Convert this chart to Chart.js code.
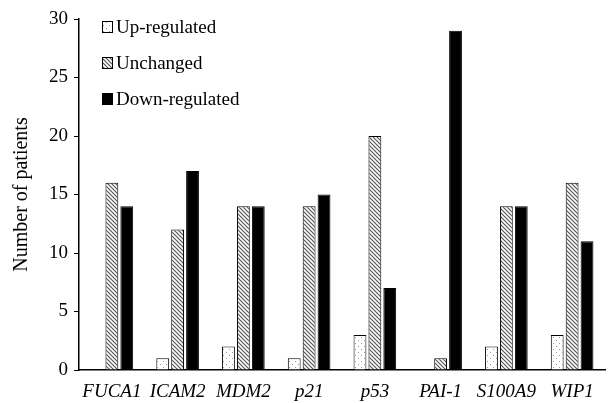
<!DOCTYPE html>
<html>
<head>
<meta charset="utf-8">
<script src="https://cdn.jsdelivr.net/npm/chart.js@4.4.0/dist/chart.umd.min.js"></script>
<style>
    html, body { margin: 0; padding: 0; background: #fff; }
    #wrap { width: 609px; height: 403px; position: relative; }
</style>
</head>
<body>
<div id="wrap"><canvas id="chart"></canvas></div>
<script>
const genes = ['FUCA1', 'ICAM2', 'MDM2', 'p21', 'p53', 'PAI-1', 'S100A9', 'WIP1'];
const upRegulated = [0, 1, 2, 1, 3, 0, 2, 3];
const unchanged = [16, 12, 14, 14, 20, 1, 14, 16];
const downRegulated = [14, 17, 14, 15, 7, 29, 14, 11];
const yTicks = [0, 5, 10, 15, 20, 25, 30];

const serif = '"Liberation Serif", "Times New Roman", serif';

// fill patterns
function dotPattern() {
    const c = document.createElement('canvas');
    c.width = 6; c.height = 6;
    const g = c.getContext('2d');
    g.fillStyle = '#fff';
    g.fillRect(0, 0, 6, 6);
    g.fillStyle = '#999';
    g.fillRect(1, 1, 1, 1);
    g.fillRect(4, 4, 1, 1);
    return g.createPattern(c, 'repeat');
}

function hatchPattern() {
    const c = document.createElement('canvas');
    c.width = 4; c.height = 4;
    const g = c.getContext('2d');
    g.fillStyle = '#fff';
    g.fillRect(0, 0, 4, 4);
    g.strokeStyle = '#555';
    g.lineWidth = 1.2;
    g.beginPath();
    g.moveTo(-1, -1); g.lineTo(5, 5);
    g.moveTo(-1, 3); g.lineTo(1, 5);
    g.moveTo(3, -1); g.lineTo(5, 1);
    g.stroke();
    return g.createPattern(c, 'repeat');
}

const fills = [dotPattern(), hatchPattern(), '#000'];

// legend drawn inside the plot, top left
const insideLegend = {
    id: 'insideLegend',
    afterDraw(chart) {
        const ctx = chart.ctx;
        ctx.save();
        ctx.font = '19px ' + serif;
        ctx.textBaseline = 'middle';
        chart.data.datasets.forEach((ds, i) => {
            const y = 27 + i * 36;
            ctx.fillStyle = ds.backgroundColor;
            ctx.fillRect(102, y - 6, 11, 12);
            ctx.strokeStyle = '#000';
            ctx.lineWidth = 1;
            ctx.strokeRect(102.5, y - 5.5, 10, 11);
            ctx.fillStyle = '#000';
            ctx.fillText(ds.label, 116, y + 1);
        });
        ctx.restore();
    }
};

new Chart(document.getElementById('chart'), {
    type: 'bar',
    data: {
        labels: genes,
        datasets: [
            { label: 'Up-regulated', data: upRegulated, backgroundColor: fills[0] },
            { label: 'Unchanged', data: unchanged, backgroundColor: fills[1] },
            { label: 'Down-regulated', data: downRegulated, backgroundColor: fills[2] }
        ]
    },
    options: {
        responsive: true,
        maintainAspectRatio: false,
        animation: false,
        layout: { padding: { top: 19, right: 4, left: 0, bottom: 0 } },
        datasets: {
            bar: {
                borderColor: '#000',
                borderWidth: 1,
                categoryPercentage: 0.68,
                barPercentage: 0.86
            }
        },
        plugins: {
            legend: { display: false },
            tooltip: { enabled: false }
        },
        scales: {
            x: {
                afterFit(axis) { axis.height = 33; },
                grid: { display: false },
                border: { display: true, color: '#000', width: 1.5 },
                ticks: {
                    color: '#000',
                    padding: 3,
                    maxRotation: 0,
                    font: { family: serif, size: 19, style: 'italic' }
                }
            },
            y: {
                min: 0,
                max: 30,
                afterBuildTicks(axis) {
                    axis.ticks = yTicks.map(v => ({ value: v }));
                },
                afterFit(axis) { axis.width = 79; },
                grid: {
                    drawOnChartArea: false,
                    drawTicks: true,
                    tickLength: 5,
                    color: '#000'
                },
                border: { display: true, color: '#000', width: 1.5 },
                ticks: {
                    color: '#000',
                    padding: 6,
                    font: { family: serif, size: 19 }
                },
                title: {
                    display: true,
                    text: 'Number of patients',
                    color: '#000',
                    padding: { top: 10, bottom: 0 },
                    font: { family: serif, size: 20 }
                }
            }
        }
    },
    plugins: [insideLegend]
});
</script>
</body>
</html>
